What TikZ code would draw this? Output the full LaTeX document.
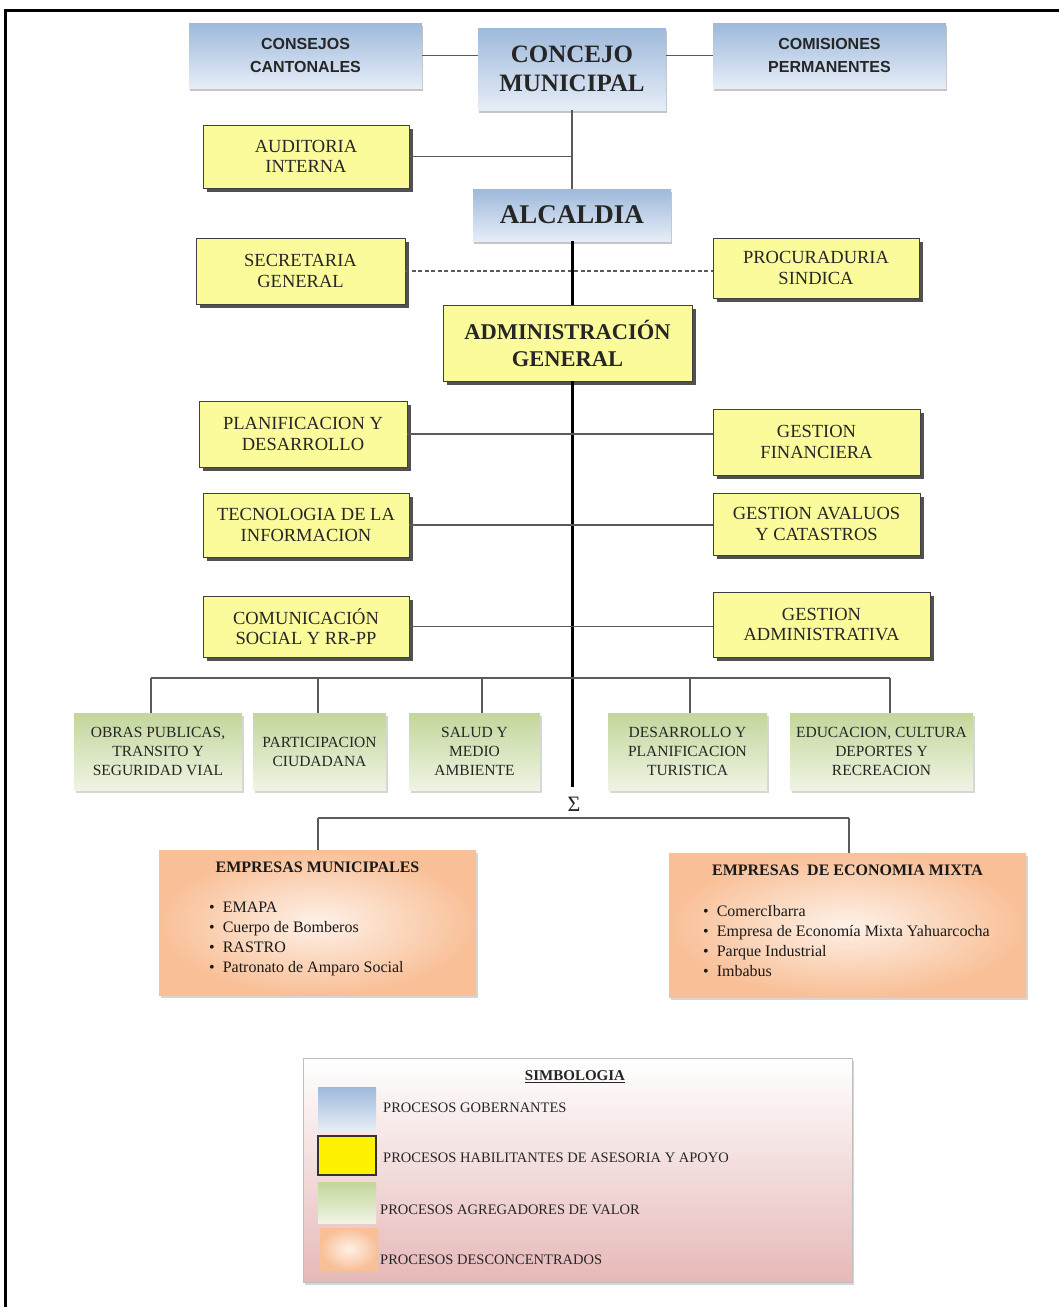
\documentclass[tikz,border=0pt]{standalone}
\usepackage{fontspec}
\setmainfont{Liberation Serif}
\newfontfamily\cantsans{Liberation Sans}
\usetikzlibrary{shadows,positioning}

\definecolor{govtop}{HTML}{9EB9DB}
\definecolor{govbot}{HTML}{E6EDF7}
\definecolor{habfill}{HTML}{FBFB9C}
\definecolor{agrtop}{HTML}{C3D69B}
\definecolor{agrbot}{HTML}{EFF4E4}
\definecolor{destop}{HTML}{F8B88B}
\definecolor{desbot}{HTML}{FDEBDD}
\definecolor{legbot}{HTML}{E6B9B8}
\definecolor{wiregray}{HTML}{5A5A5A}

\begin{document}
\begin{tikzpicture}[x=1pt,y=-1pt]
  \tikzset{sz/.style 2 args={minimum width=#1pt,minimum height=#2pt},
    base/.style={inner sep=0pt,align=center,text=black!85},
    gov/.style={base,top color=govtop,bottom color=govbot,
      drop shadow={shadow xshift=1pt,shadow yshift=-3pt,fill=black!45,opacity=.5}},
    hab/.style={base,fill=habfill,draw=black!75,line width=.9pt,font=\fontsize{18.5}{20.5}\selectfont,
      drop shadow={shadow xshift=4pt,shadow yshift=-4pt,fill=black!80,opacity=.85}},
    agr/.style={base,top color=agrtop,bottom color=agrbot,font=\fontsize{15.5}{19}\selectfont,
      drop shadow={shadow xshift=2pt,shadow yshift=-3pt,fill=black!40,opacity=.4}},
    des/.style={base,inner color=desbot!70,outer color=destop!85!desbot,
      drop shadow={shadow xshift=2pt,shadow yshift=-3pt,fill=black!40,opacity=.4}},
    dhead/.style={base,text=black!90,font=\bfseries\fontsize{16}{20}\selectfont},
    dlist/.style={base,text=black!90,align=left,font=\fontsize{16}{20}\selectfont},
    legtext/.style={base,anchor=west,font=\fontsize{14.5}{17}\selectfont},
    wire/.style={draw=wiregray,line width=1.6pt},
    trunk/.style={draw=black,line width=3pt}}
  \useasboundingbox[fill=white] (0,0) rectangle (1059,1307);
  \draw[line width=3pt] (5,1310) -- (5,10) -- (1062,10);

  % procesos gobernantes
  \node[gov,sz={233}{65},font=\cantsans\bfseries\fontsize{16}{23}\selectfont] (cons) at (305.5,55.5) {CONSEJOS\\CANTONALES};
  \node[gov,sz={188}{82},font=\bfseries\fontsize{25}{29}\selectfont] (conc) at (572,69) {CONCEJO\\MUNICIPAL};
  \node[gov,sz={233}{65},font=\cantsans\bfseries\fontsize{16}{23}\selectfont] (comi) at (829.5,55.5) {COMISIONES\\PERMANENTES};
  \node[gov,sz={198}{52},font=\bfseries\fontsize{27}{30}\selectfont] (alca) at (572,215) {ALCALDIA};

  % asesoria y apoyo
  \node[hab,sz={206}{63}] (audi) at (306,156.5) {AUDITORIA\\INTERNA};
  \node[hab,sz={209}{66}] (secr) at (300.5,271) {SECRETARIA\\GENERAL};
  \node[hab,sz={206}{60}] (proc) at (816,268) {PROCURADURIA\\SINDICA};
  \node[hab,sz={249}{76},font=\bfseries\fontsize{22.5}{27}\selectfont] (admi) at (567.5,343) {ADMINISTRACIÓN\\GENERAL};
  \node[hab,sz={208}{66}] (plan) at (303,434) {PLANIFICACION Y\\DESARROLLO};
  \node[hab,sz={207}{66}] (gfin) at (816.5,442) {GESTION\\FINANCIERA};
  \node[hab,sz={206}{64}] (tecn) at (306,525) {TECNOLOGIA DE LA\\INFORMACION};
  \node[hab,sz={207}{62}] (gava) at (816.5,524) {GESTION AVALUOS\\Y CATASTROS};
  \node[hab,sz={206}{61}] (comu) at (306,626.5) {COMUNICACIÓN\\SOCIAL Y RR-PP};
  \node[hab,sz={217}{65}] (gadm) at (821.5,624.5) {GESTION\\ADMINISTRATIVA};

  % agregadores de valor
  \node[agr,sz={168}{77}] (obra) at (158,751.5) {OBRAS PUBLICAS,\\TRANSITO Y\\SEGURIDAD VIAL};
  \node[agr,sz={133}{77}] (part) at (319.5,751.5) {PARTICIPACION\\CIUDADANA};
  \node[agr,sz={131}{77}] (salu) at (474.5,751.5) {SALUD Y\\MEDIO\\AMBIENTE};
  \node[agr,sz={159}{77}] (desa) at (687.5,751.5) {DESARROLLO Y\\PLANIFICACION\\TURISTICA};
  \node[agr,sz={183}{77}] (educ) at (881.5,751.5) {EDUCACION, CULTURA\\DEPORTES Y\\RECREACION};
  \node[base,font=\fontsize{22}{22}\selectfont] (sigma) at (574,804) {Σ};

  % desconcentrados
  \node[des,sz={317}{145}] (emun) at (317.5,922.5) {};
  \node[dhead,below=12pt of emun.north] (emunH) {EMPRESAS MUNICIPALES};
  \node[dlist,anchor=north west] (emunL) at (209,902) {\textbullet\hspace{8pt}EMAPA\\
    \textbullet\hspace{8pt}Cuerpo de Bomberos\\\textbullet\hspace{8pt}RASTRO\\
    \textbullet\hspace{8pt}Patronato de Amparo Social};
  \node[des,sz={357}{144}] (emix) at (847.5,925) {};
  \node[dhead,below=12pt of emix.north] (emixH) {EMPRESAS\ \ DE ECONOMIA MIXTA};
  \node[dlist,anchor=north west] (emixL) at (703,905) {\textbullet\hspace{8pt}ComercIbarra\\
    \textbullet\hspace{8pt}Empresa de Economía Mixta Yahuarcocha\\
    \textbullet\hspace{8pt}Parque Industrial\\\textbullet\hspace{8pt}Imbabus};

  % conectores
  \draw[wire] (cons.east) -- (cons.east -| conc.west);
  \draw[wire] (comi.west) -- (comi.west -| conc.east);
  \draw[wire] (conc.south) -- (alca.north);
  \draw[wire] (audi.east) -- (audi.east -| conc.south);
  \draw[wire,dashed,dash pattern=on 4pt off 2.5pt] (secr.east) -- (secr.east -| proc.west);
  \draw[trunk] (alca.south) -- (admi.north -| alca.south);
  \coordinate (tail) at (572,787);
  \draw[trunk] (admi.south -| alca.south) -- (tail);
  \draw[wire] (plan.east) -- (plan.east -| gfin.west);
  \draw[wire] (tecn.east) -- (tecn.east -| gava.west);
  \draw[wire] (comu.east) -- (comu.east -| gadm.west);
  \coordinate (b1) at (151,678); \coordinate (b2) at (318,678); \coordinate (b3) at (482,678);
  \coordinate (b4) at (690,678); \coordinate (b5) at (890,678);
  \draw[wire] (b1) -- (b5);
  \draw[wire] (b1) -- (b1 |- obra.north);
  \draw[wire] (b2) -- (b2 |- part.north);
  \draw[wire] (b3) -- (b3 |- salu.north);
  \draw[wire] (b4) -- (b4 |- desa.north);
  \draw[wire] (b5) -- (b5 |- educ.north);
  \coordinate (e1) at (318,818); \coordinate (e2) at (849,818);
  \draw[wire] (e1) -- (e2);
  \draw[wire] (e1) -- (e1 |- emun.north);
  \draw[wire] (e2) -- (e2 |- emix.north);

  % simbologia
  \node[base,sz={549}{224},top color=white,bottom color=legbot,draw=black!25,line width=.8pt,
    drop shadow={shadow xshift=2pt,shadow yshift=-3pt,fill=black!40,opacity=.4}] (leg) at (577.5,1170) {};
  \node[base,font=\bfseries\fontsize{15}{17}\selectfont] (legH) at (575,1077) {\underline{SIMBOLOGIA}};
  \node[base,sz={58}{43},top color=govtop,bottom color=govbot] (lgob) at (347,1108.5) {};
  \node[base,sz={58}{39},fill=yellow,draw=black!80,line width=1.5pt] (lhab) at (347,1155.5) {};
  \node[base,sz={58}{41},top color=agrtop,bottom color=agrbot] (lagr) at (347,1202.5) {};
  \node[base,sz={58}{42},inner color=desbot!70,outer color=destop!85!desbot] (ldes) at (349,1249) {};
  \node[legtext] (tgob) at (383,1108) {PROCESOS GOBERNANTES};
  \node[legtext] (thab) at (383,1158) {PROCESOS HABILITANTES DE ASESORIA Y APOYO};
  \node[legtext] (tagr) at (380,1210) {PROCESOS AGREGADORES DE VALOR};
  \node[legtext] (tdes) at (380,1260) {PROCESOS DESCONCENTRADOS};
\end{tikzpicture}
\end{document}
